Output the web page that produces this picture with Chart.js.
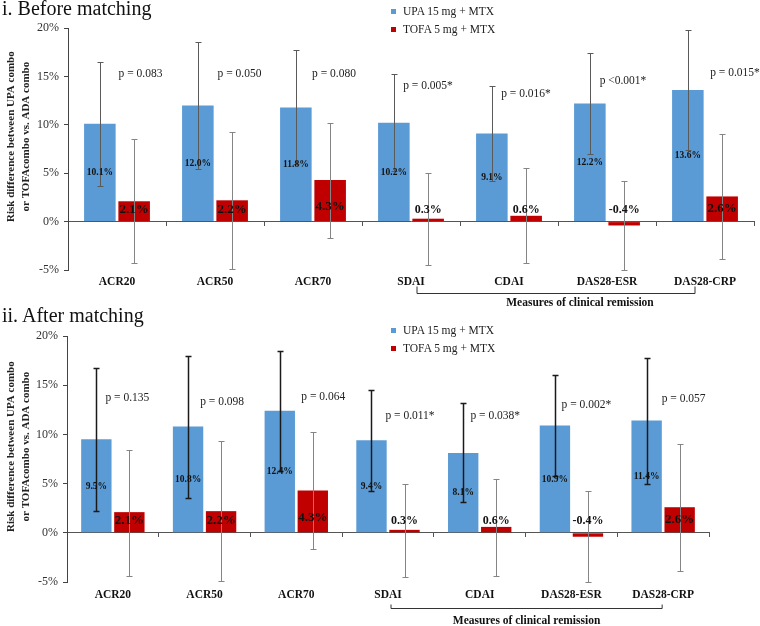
<!DOCTYPE html>
<html>
<head>
<meta charset="utf-8">
<script src="https://cdn.jsdelivr.net/npm/chart.js@4.4.1/dist/chart.umd.min.js"></script>
<style>
  body { margin: 0; background: #fff; }
  #wrap { position: relative; width: 760px; height: 626px; overflow: hidden; font-family: "Liberation Serif", "Times New Roman", serif; }
  canvas { position: absolute; left: 0; }
  .ptitle { position: absolute; left: 2px; font-size: 20px; line-height: 20px; color: #111; white-space: nowrap; }
  .legend { position: absolute; left: 391px; font-size: 11.5px; color: #222; }
  .legend .item { position: relative; height: 18px; line-height: 18px; padding-left: 12px; white-space: nowrap; }
  .legend .sw { position: absolute; left: 0; top: 7px; width: 5px; height: 5px; }
</style>
</head>
<body>
<div id="wrap">
  <canvas id="before" width="760" height="310" style="top:0"></canvas>
  <canvas id="after" width="760" height="316" style="top:310px"></canvas>
  <div class="ptitle" style="top:-2px">i. Before matching</div>
  <div class="ptitle" style="top:305px">ii. After matching</div>
  <div class="legend" id="legBefore" style="top:2px"></div>
  <div class="legend" id="legAfter" style="top:321px"></div>
</div>
<script>
// data
const categories = ["ACR20", "ACR50", "ACR70", "SDAI", "CDAI", "DAS28-ESR", "DAS28-CRP"];
const seriesNames = ["UPA 15 mg + MTX", "TOFA 5 mg + MTX"];
const yTickValues = [-5, 0, 5, 10, 15, 20];
const yTitle = ["Risk difference between UPA combo", "or TOFAcombo vs. ADA combo"];
const groupLabel = "Measures of clinical remission";

// before matching
const upaBefore   = [10.1, 12.0, 11.8, 10.2, 9.1, 12.2, 13.6];
const upaBeforeLo = [3.7, 5.4, 5.9, 5.2, 4.2, 7.0, 7.4];
const upaBeforeHi = [16.5, 18.6, 17.7, 15.2, 14.0, 17.4, 19.8];
const tofaBefore   = [2.1, 2.2, 4.3, 0.3, 0.6, -0.4, 2.6];
const tofaBeforeLo = [-4.3, -4.9, -1.7, -4.5, -4.3, -5.0, -3.9];
const tofaBeforeHi = [8.5, 9.3, 10.2, 5.0, 5.5, 4.2, 9.1];
const pBefore = ["p = 0.083", "p = 0.050", "p = 0.080", "p = 0.005*", "p = 0.016*", "p <0.001*", "p = 0.015*"];

// after matching
const upaAfter   = [9.5, 10.8, 12.4, 9.4, 8.1, 10.9, 11.4];
const upaAfterLo = [2.2, 3.5, 6.3, 4.2, 3.1, 5.8, 5.0];
const upaAfterHi = [16.7, 18.0, 18.5, 14.5, 13.2, 16.0, 17.8];
const tofaAfter   = [2.1, 2.2, 4.3, 0.3, 0.6, -0.4, 2.6];
const tofaAfterLo = [-4.4, -4.9, -1.6, -4.5, -4.4, -5.0, -3.9];
const tofaAfterHi = [8.4, 9.3, 10.2, 5.0, 5.5, 4.2, 9.0];
const pAfter = ["p = 0.135", "p = 0.098", "p = 0.064", "p = 0.011*", "p = 0.038*", "p = 0.002*", "p = 0.057"];

// styling / layout
const BLUE = "#5b9bd5";
const RED = "#c00000";
const SERIF = "'Liberation Serif', 'Times New Roman', serif";

// where the p-value text sits: px right of the category centre, and at which y value
const pPosBefore = { dx: [23.5, 24.5, 21, 17, 17, 16, 30], lvl: [15.3, 15.3, 15.2, 14.0, 13.2, 14.5, 15.4] };
const pPosAfter  = { dx: [14.5, 17.5, 27, 22, 15.5, 15, 20.5], lvl: [13.7, 13.3, 13.8, 11.9, 11.9, 13.0, 13.6] };

// the axis title sits a bit above the middle of the axis in the original,
// leading spaces push it up (text runs bottom to top)
const titleLift = "\u00a0".repeat(9);

function buildLegend(el) {
  [BLUE, RED].forEach((c, i) => {
    const d = document.createElement("div");
    d.className = "item";
    d.innerHTML = '<span class="sw" style="background:' + c + '"></span>' + seriesNames[i];
    el.appendChild(d);
  });
}
buildLegend(document.getElementById("legBefore"));
buildLegend(document.getElementById("legAfter"));

// error bars, value labels, p-values and the bracket under the remission measures
const overlays = {
  id: "overlays",
  afterDatasetsDraw(chart, args, o) {
    const { ctx, chartArea } = chart;
    const xs = chart.scales.x, ys = chart.scales.y;
    ctx.save();

    o.errors.forEach((err, di) => {
      const meta = chart.getDatasetMeta(di);
      ctx.strokeStyle = err.color;
      ctx.lineWidth = err.width;
      meta.data.forEach((bar, i) => {
        const t = Math.round(ys.getPixelForValue(err.hi[i])) + 0.5;
        const b = Math.round(ys.getPixelForValue(err.lo[i])) + 0.5;
        const cx = Math.round(bar.x) + 0.5;
        ctx.beginPath();
        ctx.moveTo(cx, t); ctx.lineTo(cx, b);
        ctx.moveTo(cx - 3, t); ctx.lineTo(cx + 3, t);
        ctx.moveTo(cx - 3, b); ctx.lineTo(cx + 3, b);
        ctx.stroke();
      });
    });

    ctx.textAlign = "center";
    ctx.textBaseline = "middle";
    ctx.fillStyle = "#111";

    // blue labels sit in the middle of the bar
    const m0 = chart.getDatasetMeta(0);
    ctx.font = "bold 9.5px " + SERIF;
    chart.data.datasets[0].data.forEach((v, i) => {
      ctx.fillText(v.toFixed(1) + "%", m0.data[i].x, ys.getPixelForValue(v / 2));
    });

    // red labels sit just above the zero line
    const m1 = chart.getDatasetMeta(1);
    chart.data.datasets[1].data.forEach((v, i) => {
      ctx.font = "bold " + (Math.abs(v) < 1 ? 12 : 13) + "px " + SERIF;
      const lv = Math.min(Math.max(v / 2, 1.2), 1.5);
      ctx.fillText(v.toFixed(1) + "%", m1.data[i].x, ys.getPixelForValue(lv));
    });

    ctx.font = "11.5px " + SERIF;
    ctx.fillStyle = "#222";
    o.p.forEach((txt, i) => {
      ctx.fillText(txt, xs.getPixelForValue(i) + o.pPos.dx[i], ys.getPixelForValue(o.pPos.lvl[i]));
    });

    const br = o.bracket;
    const x1 = xs.getPixelForValue(br.from) + br.dxL;
    const x2 = xs.getPixelForValue(br.to) + br.dxR;
    const yT = chartArea.bottom + br.top + 0.5;
    const yL = chartArea.bottom + br.line + 0.5;
    ctx.strokeStyle = "#333";
    ctx.lineWidth = 1;
    ctx.beginPath();
    ctx.moveTo(x1, yT); ctx.lineTo(x1, yL); ctx.lineTo(x2, yL); ctx.lineTo(x2, yT);
    ctx.stroke();
    ctx.font = "bold 11.5px " + SERIF;
    ctx.fillStyle = "#111";
    ctx.fillText(groupLabel, (x1 + x2) / 2 + br.textDx, chartArea.bottom + br.text);

    ctx.restore();
  }
};

function makeChart(id, s) {
  return new Chart(document.getElementById(id), {
    type: "bar",
    data: {
      labels: categories,
      datasets: [
        { label: seriesNames[0], data: s.upa, backgroundColor: BLUE },
        { label: seriesNames[1], data: s.tofa, backgroundColor: RED }
      ]
    },
    plugins: [overlays],
    options: {
      responsive: false,
      animation: false,
      categoryPercentage: s.cat,
      barPercentage: 0.92,
      layout: { padding: { top: s.padTop, right: s.padRight, bottom: 0, left: 0 } },
      plugins: {
        legend: { display: false },
        tooltip: { enabled: false },
        overlays: {
          errors: [
            { lo: s.upaLo, hi: s.upaHi, color: s.upaErrColor, width: s.upaErrWidth },
            { lo: s.tofaLo, hi: s.tofaHi, color: "#858585", width: 1 }
          ],
          p: s.p,
          pPos: s.pPos,
          bracket: s.bracket
        }
      },
      scales: {
        x: {
          grid: { display: false, drawTicks: false },
          border: { display: false },
          ticks: {
            autoSkip: false, maxRotation: 0, padding: s.xPad, color: "#111",
            font: { family: SERIF, size: 11.5, weight: "bold" }
          },
          afterFit: (sc) => { sc.height = s.xHeight; }
        },
        // second category axis only for the line and tick marks at 0 %
        x2: {
          axis: "x",
          type: "category",
          position: { y: 0 },
          offset: true,
          grid: { offset: true, drawOnChartArea: false, tickLength: 4, color: "#555" },
          border: { color: "#555" },
          ticks: { display: false }
        },
        y: {
          min: -5,
          max: 20,
          afterBuildTicks: (sc) => { sc.ticks = yTickValues.map(v => ({ value: v })); },
          grid: { drawOnChartArea: false, tickLength: 4, color: "#444" },
          border: { color: "#444" },
          ticks: {
            padding: 5, color: "#333",
            font: { family: SERIF, size: 12 },
            callback: (v) => v + "%"
          },
          title: {
            display: true,
            text: yTitle.map(t => titleLift + t),
            color: "#222",
            padding: { top: 3.5, bottom: 0 },
            font: { family: SERIF, size: 11, weight: "bold", lineHeight: 1.35 }
          },
          afterFit: (sc) => { sc.width = s.yWidth; }
        }
      }
    }
  });
}

makeChart("before", {
  upa: upaBefore, upaLo: upaBeforeLo, upaHi: upaBeforeHi,
  tofa: tofaBefore, tofaLo: tofaBeforeLo, tofaHi: tofaBeforeHi,
  p: pBefore, pPos: pPosBefore,
  upaErrColor: "#5a5a5a", upaErrWidth: 1,
  cat: 0.70, padTop: 28, padRight: 6, yWidth: 68, xHeight: 40, xPad: 5,
  bracket: { from: 3, to: 6, dxL: 6, dxR: -10, top: 16, line: 23, text: 33, textDx: 24 }
});

makeChart("after", {
  upa: upaAfter, upaLo: upaAfterLo, upaHi: upaAfterHi,
  tofa: tofaAfter, tofaLo: tofaAfterLo, tofaHi: tofaAfterHi,
  p: pAfter, pPos: pPosAfter,
  upaErrColor: "#1a1a1a", upaErrWidth: 1.5,
  cat: 0.72, padTop: 26, padRight: 51, yWidth: 67, xHeight: 44, xPad: 6,
  bracket: { from: 3, to: 6, dxL: 3, dxR: -1, top: 22, line: 26, text: 39, textDx: 0 }
});
</script>
</body>
</html>
